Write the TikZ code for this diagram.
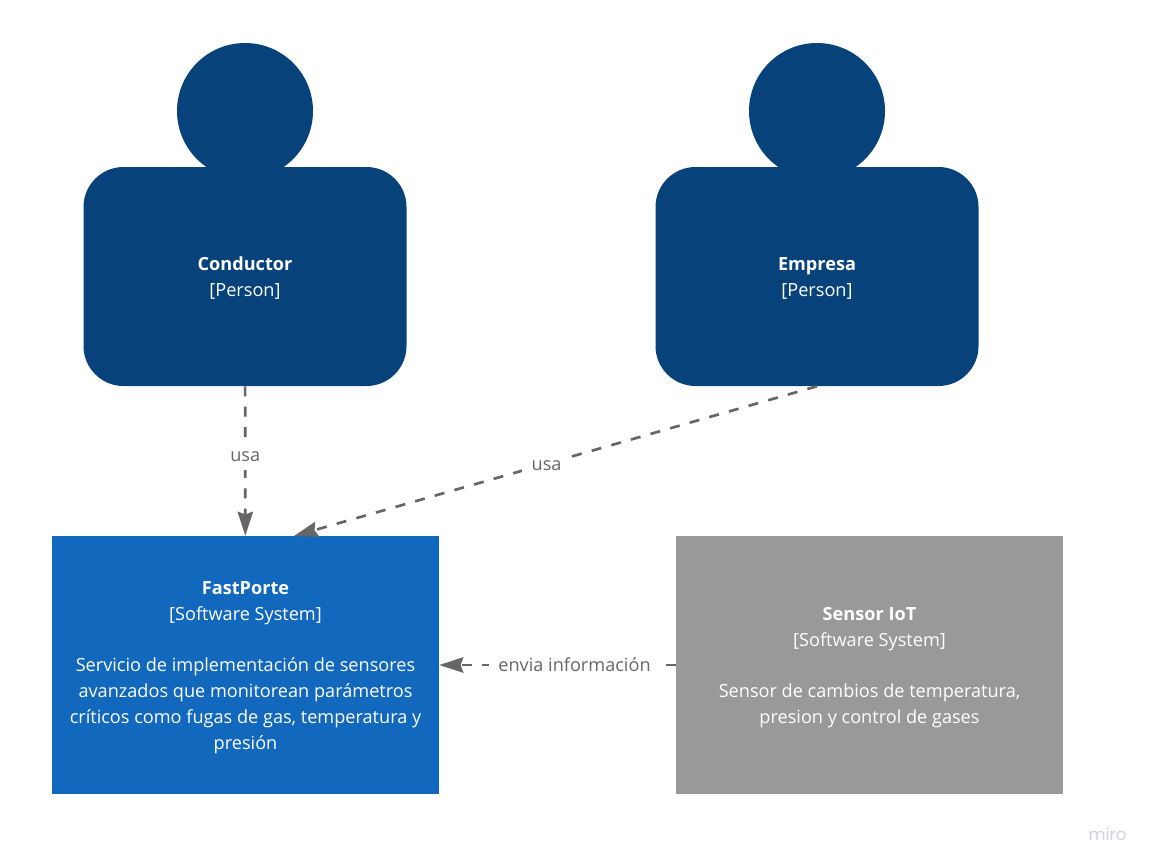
\documentclass[tikz,border=0pt]{standalone}
\usepackage{fontspec}
\setmainfont{Open Sans}
\newfontfamily\mirofont{Poppins}
\usetikzlibrary{arrows.meta}
\definecolor{persondark}{HTML}{08427B}
\definecolor{systemblue}{HTML}{1168BD}
\definecolor{systemgrey}{HTML}{999999}
\definecolor{relgrey}{HTML}{666666}
\definecolor{mirogrey}{HTML}{D0D0E0}
\newcommand{\firstline}{\rule{0pt}{13.3pt}}
\tikzset{
  head/.style={circle,fill=persondark,inner sep=0pt,minimum size=102pt},
  person/.style={rectangle,fill=persondark,rounded corners=30pt,inner sep=0pt,minimum width=242.25pt,minimum height=164.25pt,text=white,align=center,font=\fontsize{13.6}{19.5}\selectfont},
  box/.style={rectangle,inner sep=0pt,minimum width=290.25pt,minimum height=193.5pt,text=white,align=center,font=\fontsize{13.6}{19.5}\selectfont},
  relation/.style={draw=relgrey,line width=2pt,dash pattern=on 7.5pt off 7.8pt,-{Stealth[length=18pt,width=11.5pt,inset=2pt]}},
  rellabel/.style={fill=white,inner xsep=7pt,inner ysep=6pt,text=relgrey,font=\fontsize{13.6}{19.5}\selectfont}
}
\begin{document}
\begin{tikzpicture}[x=0.75pt,y=-0.75pt]
  \useasboundingbox (0,0) rectangle (1152,867);
  \node[head] (conductorhead) at (245,111) {};
  \node[head] (empresahead) at (817,111) {};
  \node[person] (conductor) at (245,276.5) {\firstline\textbf{Conductor}\\{[}Person{]}};
  \node[person] (empresa) at (817,276.5) {\firstline\textbf{Empresa}\\{[}Person{]}};
  \node[box,fill=systemblue] (fastporte) at (245.5,665) {\firstline\textbf{FastPorte}\\{[}Software System{]}\\[18.9pt]Servicio de implementación de sensores\\avanzados que monitorean parámetros\\críticos como fugas de gas, temperatura y\\presión};
  \node[box,fill=systemgrey] (sensor) at (869.5,665) {\firstline\textbf{Sensor IoT}\\{[}Software System{]}\\[18.9pt]Sensor de cambios de temperatura,\\presion y control de gases};
  \coordinate (fastporteb) at (294,536);
  \draw[relation] (conductor) -- node[rellabel,pos=.46,yshift=-1.5pt] (usaa) {usa} (fastporte);
  \draw[relation] (empresa.south) -- node[rellabel,pos=.517,yshift=-1.5pt] (usab) {usa} (fastporteb);
  \draw[relation] (sensor) -- node[rellabel,pos=.428] (envia) {envia información} (fastporte);
  \node[text=mirogrey,font=\mirofont\fontsize{12.4}{14}\selectfont] (miro) at (1107.5,834) {miro};
\end{tikzpicture}
\end{document}
